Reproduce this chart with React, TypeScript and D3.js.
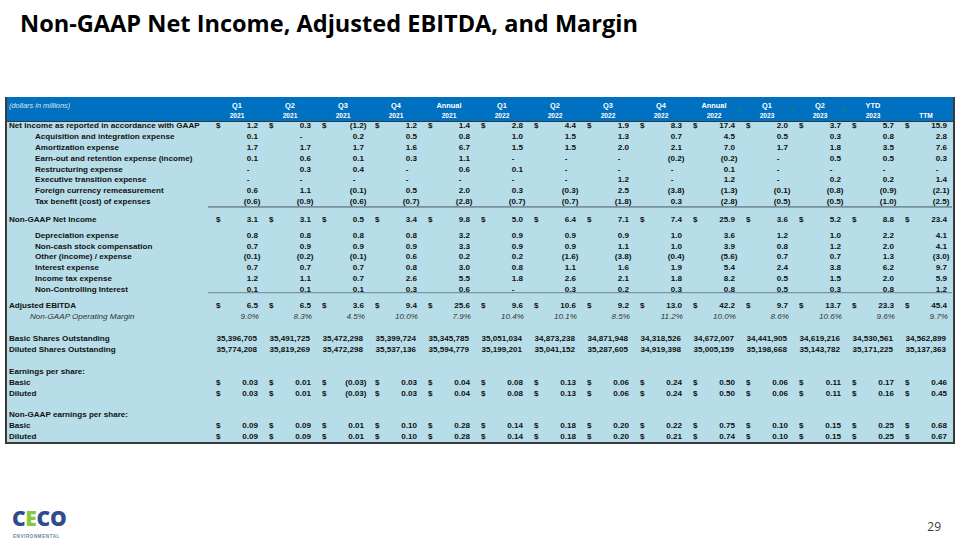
import React from "react";
import * as d3 from "d3";

// ---------- data ----------
const colPeriods = ["Q1", "Q2", "Q3", "Q4", "Annual", "Q1", "Q2", "Q3", "Q4", "Annual", "Q1", "Q2", "YTD", ""];
const colYears = ["2021", "2021", "2021", "2021", "2021", "2022", "2022", "2022", "2022", "2022", "2023", "2023", "2023", "TTM"];
const commentCols = [9, 10, 11];

const netIncome = [1.2, 0.3, -1.2, 1.2, 1.4, 2.8, 4.4, 1.9, 8.3, 17.4, 2.0, 3.7, 5.7, 15.9];
const acquisition = [0.1, null, 0.2, 0.5, 0.8, 1.0, 1.5, 1.3, 0.7, 4.5, 0.5, 0.3, 0.8, 2.8];
const amortization = [1.7, 1.7, 1.7, 1.6, 6.7, 1.5, 1.5, 2.0, 2.1, 7.0, 1.7, 1.8, 3.5, 7.6];
const earnOut = [0.1, 0.6, 0.1, 0.3, 1.1, null, null, null, -0.2, -0.2, null, 0.5, 0.5, 0.3];
const restructuring = [null, 0.3, 0.4, null, 0.6, 0.1, null, null, null, 0.1, null, null, null, null];
const executive = [null, null, null, null, null, null, null, 1.2, null, 1.2, null, 0.2, 0.2, 1.4];
const foreignCurrency = [0.6, 1.1, -0.1, 0.5, 2.0, 0.3, -0.3, 2.5, -3.8, -1.3, -0.1, -0.8, -0.9, -2.1];
const taxBenefit = [-0.6, -0.9, -0.6, -0.7, -2.8, -0.7, -0.7, -1.8, 0.3, -2.8, -0.5, -0.5, -1.0, -2.5];
const nonGaapNetIncome = [3.1, 3.1, 0.5, 3.4, 9.8, 5.0, 6.4, 7.1, 7.4, 25.9, 3.6, 5.2, 8.8, 23.4];
const depreciation = [0.8, 0.8, 0.8, 0.8, 3.2, 0.9, 0.9, 0.9, 1.0, 3.6, 1.2, 1.0, 2.2, 4.1];
const stockComp = [0.7, 0.9, 0.9, 0.9, 3.3, 0.9, 0.9, 1.1, 1.0, 3.9, 0.8, 1.2, 2.0, 4.1];
const otherIncome = [-0.1, -0.2, -0.1, 0.6, 0.2, 0.2, -1.6, -3.8, -0.4, -5.6, 0.7, 0.7, 1.3, -3.0];
const interestExp = [0.7, 0.7, 0.7, 0.8, 3.0, 0.8, 1.1, 1.6, 1.9, 5.4, 2.4, 3.8, 6.2, 9.7];
const incomeTax = [1.2, 1.1, 0.7, 2.6, 5.5, 1.8, 2.6, 2.1, 1.8, 8.2, 0.5, 1.5, 2.0, 5.9];
const nonControlling = [0.1, 0.1, 0.1, 0.3, 0.6, null, 0.3, 0.2, 0.3, 0.8, 0.5, 0.3, 0.8, 1.2];
const adjEbitda = [6.5, 6.5, 3.6, 9.4, 25.6, 9.6, 10.6, 9.2, 13.0, 42.2, 9.7, 13.7, 23.3, 45.4];
const opMargin = [9.0, 8.3, 4.5, 10.0, 7.9, 10.4, 10.1, 8.5, 11.2, 10.0, 8.6, 10.6, 9.6, 9.7];
const basicShares = [35396705, 35491725, 35472298, 35399724, 35345785, 35051034, 34873238, 34871948, 34318526, 34672007, 34441905, 34619216, 34530561, 34562899];
const dilutedShares = [35774208, 35819269, 35472298, 35537136, 35594779, 35199201, 35041152, 35287605, 34919398, 35005159, 35198668, 35143782, 35171225, 35137363];
const epsBasic = [0.03, 0.01, -0.03, 0.03, 0.04, 0.08, 0.13, 0.06, 0.24, 0.5, 0.06, 0.11, 0.17, 0.46];
const epsDiluted = [0.03, 0.01, -0.03, 0.03, 0.04, 0.08, 0.13, 0.06, 0.24, 0.5, 0.06, 0.11, 0.16, 0.45];
const ngEpsBasic = [0.09, 0.09, 0.01, 0.1, 0.28, 0.14, 0.18, 0.2, 0.22, 0.75, 0.1, 0.15, 0.25, 0.68];
const ngEpsDiluted = [0.09, 0.09, 0.01, 0.1, 0.28, 0.14, 0.18, 0.2, 0.21, 0.74, 0.1, 0.15, 0.25, 0.67];

type Kind = "m1" | "pct" | "shares" | "eps" | "section";
interface Row { label: string; values?: (number | null)[]; kind: Kind; dollar?: boolean; indent?: boolean; italic?: boolean; }

const rows: Row[] = [
  { label: "Net Income as reported in accordance with GAAP", values: netIncome, kind: "m1", dollar: true },
  { label: "Acquisition and integration expense", values: acquisition, kind: "m1", indent: true },
  { label: "Amortization expense", values: amortization, kind: "m1", indent: true },
  { label: "Earn-out and retention expense (income)", values: earnOut, kind: "m1", indent: true },
  { label: "Restructuring expense", values: restructuring, kind: "m1", indent: true },
  { label: "Executive transition expense", values: executive, kind: "m1", indent: true },
  { label: "Foreign currency remeasurement", values: foreignCurrency, kind: "m1", indent: true },
  { label: "Tax benefit (cost) of expenses", values: taxBenefit, kind: "m1", indent: true },
  { label: "Non-GAAP Net Income", values: nonGaapNetIncome, kind: "m1", dollar: true },
  { label: "Depreciation expense", values: depreciation, kind: "m1", indent: true },
  { label: "Non-cash stock compensation", values: stockComp, kind: "m1", indent: true },
  { label: "Other (income) / expense", values: otherIncome, kind: "m1", indent: true },
  { label: "Interest expense", values: interestExp, kind: "m1", indent: true },
  { label: "Income tax expense", values: incomeTax, kind: "m1", indent: true },
  { label: "Non-Controlling Interest", values: nonControlling, kind: "m1", indent: true },
  { label: "Adjusted EBITDA", values: adjEbitda, kind: "m1", dollar: true },
  { label: "Non-GAAP Operating Margin", values: opMargin, kind: "pct", italic: true },
  { label: "Basic Shares Outstanding", values: basicShares, kind: "shares" },
  { label: "Diluted Shares Outstanding", values: dilutedShares, kind: "shares" },
  { label: "Earnings per share:", kind: "section" },
  { label: "Basic", values: epsBasic, kind: "eps", dollar: true },
  { label: "Diluted", values: epsDiluted, kind: "eps", dollar: true },
  { label: "Non-GAAP earnings per share:", kind: "section" },
  { label: "Basic", values: ngEpsBasic, kind: "eps", dollar: true },
  { label: "Diluted", values: ngEpsDiluted, kind: "eps", dollar: true },
];

// ---------- layout ----------
const rowGaps = [0, 0, 0, 0, 0, 0, 0, 0, 0.63, 0.47, 0, 0, 0, 0, 0, 0.46, 0.06, 1.0, 0, 1.07, 0, 0, 0.95, 0, 0];
const underlineAfter = [7, 14];

const FONT = "'Liberation Sans', Arial, sans-serif";
const BLUE = "#0070C0";
const BODY = "#B7DEE8";

const colIdx = colYears.map((_, i) => i);
const x = d3.scalePoint<number>().domain(colIdx).range([258, 947]);
const yUnit = d3.scaleLinear().domain([0, 1]).range([125.3, 136.15]);

const rowUnits: number[] = [];
rowGaps.reduce((acc, g, i) => {
  const u = i === 0 ? 0 : acc + 1 + g;
  rowUnits.push(u);
  return u;
}, 0);

const f1 = d3.format(".1f");
const f2 = d3.format(".2f");
const fc = d3.format(",");

function fmt(v: number | null, kind: Kind): string {
  if (v === null) return "-";
  if (kind === "pct") return f1(v) + "%";
  if (kind === "shares") return fc(v);
  const s = kind === "eps" ? f2(Math.abs(v)) : f1(Math.abs(v));
  return v < 0 ? `(${s})` : s;
}

export default function App() {
  const left = 6, right = 954, headTop = 97, headBot = 121, bottom = 443;
  return (
    <svg width={960} height={540} style={{ position: "absolute", left: 0, top: 0, background: "#fff" }}>
      <text x={20} y={32} fontFamily="'Open Sans', sans-serif" fontWeight={700} fontSize={23}
        textLength={618} lengthAdjust="spacingAndGlyphs" fill="#000">
        Non-GAAP Net Income, Adjusted EBITDA, and Margin
      </text>

      {/* table backgrounds */}
      <rect x={left} y={headBot} width={right - left} height={bottom - headBot} fill={BODY} />
      <rect x={left} y={headTop} width={right - left} height={headBot - headTop} fill={BLUE} />
      <line x1={left} x2={right} y1={headBot + 0.5} y2={headBot + 0.5} stroke="#2b3a45" strokeWidth={1} />

      {/* header */}
      <text x={9} y={107.8} fontFamily={FONT} fontStyle="italic" fontSize={7.4} fill="#d9e6f2">
        (dollars in millions)
      </text>
      {colIdx.map((i) => (
        <g key={"h" + i}>
          <text x={(x(i) as number) - 21} y={107.8} textAnchor="middle" fontFamily={FONT} fontWeight={700} fontSize={7.4} fill="#fff">
            {colPeriods[i]}
          </text>
          <text x={(x(i) as number) - 21} y={118.2} textAnchor="middle" fontFamily={FONT} fontWeight={700} fontSize={6.6} fill="#fff">
            {colYears[i]}
          </text>
        </g>
      ))}
      {commentCols.map((i) => {
        const cx = (x(i) as number) + 5;
        return <path key={"c" + i} d={`M${cx - 3},${109} L${cx},${109} L${cx},${112} Z`} fill="#1f8f2f" />;
      })}

      {/* underlines */}
      {underlineAfter.map((ri, k) => {
        const yy = yUnit(rowUnits[ri]) + (k === 0 ? 5.7 : 3.5);
        return (
          <line key={"u" + ri} x1={208} x2={right - 2} y1={yy} y2={yy}
            stroke={k === 0 ? "#4a5a62" : "#7895a2"} strokeWidth={k === 0 ? 1 : 1.4} />
        );
      })}

      {/* rows */}
      {rows.map((r, ri) => {
        const cy = yUnit(rowUnits[ri]);
        const by = cy + 2.9;
        const weight = r.italic ? 400 : 700;
        const color = r.italic ? "#333" : "#111";
        return (
          <g key={"r" + ri}>
            <text x={r.indent ? 35 : r.italic ? 30 : 9} y={by} fontFamily={FONT} fontWeight={weight}
              fontStyle={r.italic ? "italic" : "normal"} fontSize={8.1} fill={color}>
              {r.label}
            </text>
            {r.values && r.values.map((v, ci) => {
              const R = x(ci) as number;
              let tx = R;
              let anchor: "end" | "middle" = "end";
              if (v === null) { tx = R - 10; anchor = "middle"; }
              else if (r.kind === "shares") tx = R - 1;
              else if (r.kind === "pct") tx = R + 1;
              else if (v < 0) tx = R + 2.5;
              return (
                <g key={ci}>
                  {r.dollar && (
                    <text x={R - 42} y={by} fontFamily={FONT} fontWeight={700} fontSize={8.1} fill="#111">$</text>
                  )}
                  <text x={tx} y={by} textAnchor={anchor} fontFamily={FONT} fontWeight={weight}
                    fontStyle={r.italic ? "italic" : "normal"} fontSize={8.1} fill={color}>
                    {fmt(v, r.kind)}
                  </text>
                </g>
              );
            })}
          </g>
        );
      })}

      {/* border */}
      <path d={`M${left},${headTop} L${left},${bottom} L${right},${bottom} L${right},${headTop}`}
        fill="none" stroke="#3a3a3a" strokeWidth={2} />

      {/* logo */}
      <text x={12} y={526} fontFamily="'Open Sans', sans-serif" fontWeight={800} fontSize={21} letterSpacing={-0.3}>
        <tspan fill="#2E4B8B">C</tspan>
        <tspan fill="#8CC63F">E</tspan>
        <tspan fill="#2E4B8B">C</tspan>
        <tspan fill="#2E4B8B">O</tspan>
      </text>
      <text x={13} y={537.5} fontFamily={FONT} fontWeight={700} fontSize={4.6} letterSpacing={0.55} fill="#6b8a96">
        ENVIRONMENTAL
      </text>

      <text x={941} y={531} textAnchor="end" fontFamily="'Open Sans', sans-serif" fontSize={12} fill="#404040">
        29
      </text>
    </svg>
  );
}
